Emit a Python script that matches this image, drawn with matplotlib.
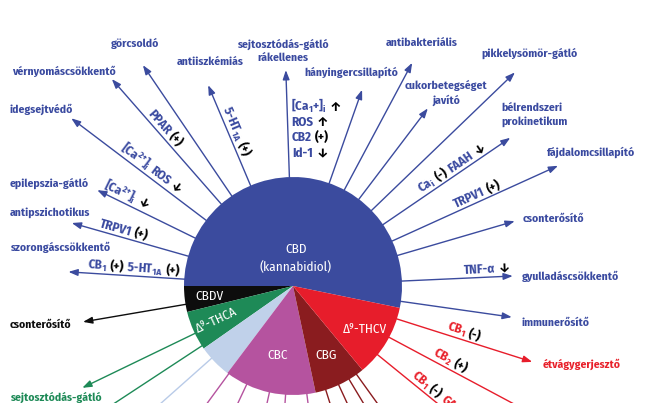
import numpy as np
import matplotlib.pyplot as plt
from matplotlib import font_manager

# pick a condensed face that has a real bold cut
prefs = ['Fira Sans Condensed', 'Barlow Semi Condensed', 'IBM Plex Sans Condensed', 'Roboto Condensed',
         'PT Sans Narrow', 'Encode Sans Condensed', 'Archivo Narrow']
bold_ok = {f.name for f in font_manager.fontManager.ttflist if f.weight in (600, 700, 'bold', 'semibold')}
have = {f.name for f in font_manager.fontManager.ttflist}
face = next((p for p in prefs if p in bold_ok), next((p for p in prefs if p in have), 'DejaVu Sans'))
plt.rcParams['font.family'] = [face, 'DejaVu Sans']
plt.rcParams['mathtext.default'] = 'regular'

W, H = 645, 403
cx, cy = 293, H - 286
R = 109

# pie: compounds
compounds = ["CBD\n(kannabidiol)", "CBDV", "Δ⁹-THCA", "", "CBC", "CBG", "Δ⁹-THCV"]
shares = [191.6, 13.8, 21.2, 18.0, 49.0, 27.6, 38.8]
colors = ["#3b4b9e", "#0d0d0d", "#1e8a57", "#c0d1ea", "#b5539f", "#8a1c1f", "#e71d2b"]
label_r = [28, 84, 84, 0, 71, 77, 84]
label_rot = [0, 0, 25, 0, 0, 0, 0]

# CBD effects (blue)
cbd_effects = ["szorongáscsökkentő", "antipszichotikus", "epilepszia-gátló", "idegsejtvédő",
               "vérnyomáscsökkentő", "görcsoldó", "antiiszkémiás", "sejtosztódás-gátló\nrákellenes",
               "hányingercsillapító", "antibakteriális", "cukorbetegséget\njavító",
               "pikkelysömör-gátló", "bélrendszeri\nprokinetikum", "fájdalomcsillapító",
               "csonterősítő", "gyulladáscsökkentő", "immunerősítő"]
cbd_angles = [176.4, 164.1, 153.9, 142.9, 131.2, 124.2, 112.9, 91.9, 70.6, 61.9, 52.8,
              43.9, 34.3, 24.4, 16.3, 2.6, -8.1]
cbd_lengths = [225, 230, 218, 278, 275, 267, 218, 216, 208, 253, 223, 308, 263, 291, 231, 220, 221]
cbd_label_x = [10, 10, 10, 10, 12, 135, 210, 283, 351, 422, 446, 530, 534, 591, 553, 571, 555]
cbd_label_y = [248, 213, 183, 109, 72, 44, 62, 51, 72, 43, 93, 53, 115, 152, 219, 277, 323]
cbd_receptors = ["CB$_1$ (+) 5-HT$_{1A}$ (+)", "TRPV1 (+)", "[Ca$^{2{+}}$]$_i$ ↓",
                 "[Ca$^{2{+}}$]$_i$ ROS ↓", "PPAR (+)", "", "5-HT$_{1A}$ (+)", "", "", "", "", "",
                 "Ca$_i$ (-) FAAH ↓", "TRPV1 (+)", "", "TNF-α ↓", ""]
cbd_receptor_r = [160, 178, 189, 184, 203, 0, 165, 0, 0, 0, 0, 0, 198, 206, 0, 194, 0]
stack_labels = ["[Ca$_1$+]$_i$ ↑", "ROS ↑", "CB2 (+)", "Id-1 ↓"]
stack_r = [179, 164, 149, 133]

# CBDV (black)
cbdv_effects = ["csonterősítő"]
cbdv_angles = [189.7]
cbdv_lengths = [213]
cbdv_label_x = [10]
cbdv_label_y = [325]

# THCA (green)
thca_effects = ["sejtosztódás-gátló", ""]
thca_angles = [205.8, 213.3]
thca_lengths = [234, 300]
thca_label_x = [10, 0]
thca_label_y = [397, 0]

# light blue, CBC, CBG rays (run off the bottom)
light_angles = [221.6]
cbc_angles = [233.8, 244.8, 257.5, 266.1, 277.3]
cbg_angles = [287.5, 294.8, 301.0, 305.7]

# THCV (red)
thcv_effects = ["étvágygerjesztő", "", ""]
thcv_angles = [-17.6, -28.1, -39.1]
thcv_lengths = [251, 300, 300]
thcv_label_x = [582, 0, 0]
thcv_label_y = [364, 0, 0]
thcv_receptors = ["CB$_1$ (-)", "CB$_2$ (+)", "CB$_1$ (-) GABA"]
thcv_receptor_r = [177, 174, 182]

blue_txt = "#3a4aa0"
red_txt = "#e8202a"
FS = 8.3
RS = 9.3

fig = plt.figure(figsize=(6.45, 4.03), dpi=100)
ax = fig.add_axes([0, 0, 1, 1])
wedges, _ = ax.pie(shares, colors=colors, startangle=-11.6, counterclock=True, radius=R,
                   center=(cx, cy), frame=False, wedgeprops=dict(linewidth=0, zorder=3))
ax.set_xlim(0, W)
ax.set_ylim(0, H)
ax.set_aspect('equal')
ax.axis('off')
renderer = fig.canvas.get_renderer()
signs = {"(+)", "(-)", "↓", "↑"}


def pt(ang, r):
    a = np.radians(ang)
    return cx + r * np.cos(a), cy + r * np.sin(a)


def ray(ang, length, color, head=True):
    x0, y0 = pt(ang, R - 5)
    x1, y1 = pt(ang, length)
    if head:
        ax.annotate('', xy=(x1, y1), xytext=(x0, y0), zorder=1,
                    arrowprops=dict(arrowstyle='-|>,head_length=0.55,head_width=0.2', color=color,
                                    lw=1.0, mutation_scale=10, shrinkA=0, shrinkB=0))
    else:
        ax.plot([x0, x1], [y0, y1], color=color, lw=1.0, zorder=1)


def rich(x, y, text, color, rot=0.0, align='center', size=RS):
    parts = text.split(' ')
    widths = []
    for p in parts:
        t = ax.text(0, 0, p, fontsize=size, fontweight='bold')
        widths.append(t.get_window_extent(renderer).width)
        t.remove()
    gap = 3
    total = sum(widths) + gap * (len(parts) - 1)
    a = np.radians(rot)
    ux, uy = np.cos(a), np.sin(a)
    s = -total / 2 if align == 'center' else 0
    for p, w in zip(parts, widths):
        ax.text(x + (s + w / 2) * ux, y + (s + w / 2) * uy, p,
                color='black' if p in signs else color, rotation=rot, rotation_mode='anchor',
                ha='center', va='baseline', fontsize=size, fontweight='bold', zorder=5)
        s += w + gap


def receptor(ang, r, text, color, off=4):
    rot = (ang + 90) % 180 - 90
    x, y = pt(ang, r)
    a = np.radians(rot)
    rich(x - np.sin(a) * off, y + np.cos(a) * off, text, color, rot)


def effect(x, y, text, color):
    if not text:
        return
    ha = 'left' if x < 30 else 'center'
    ax.text(x, H - y, text, color=color, fontsize=FS, fontweight='bold', ha=ha, va='center',
            multialignment='center' if 'rákellenes' in text or 'javító' in text else 'left',
            linespacing=1.4, zorder=5)


# wedge labels
for w, name, lr, rot in zip(wedges, compounds, label_r, label_rot):
    if not name:
        continue
    mid = (w.theta1 + w.theta2) / 2
    x, y = pt(mid, lr)
    ax.text(x, y, name, color='white', fontsize=9.5, ha='center', va='center', rotation=rot,
            linespacing=1.5, zorder=6)

# CBD
for i, ang in enumerate(cbd_angles):
    ray(ang, cbd_lengths[i], colors[0])
    effect(cbd_label_x[i], cbd_label_y[i], cbd_effects[i], blue_txt)
    if cbd_receptors[i]:
        receptor(ang, cbd_receptor_r[i], cbd_receptors[i], blue_txt)
for lab, r in zip(stack_labels, stack_r):
    x, y = pt(cbd_angles[7], r)
    rich(x + 4, y - 4, lab, blue_txt, 0, align='left')

# CBDV
for i, ang in enumerate(cbdv_angles):
    ray(ang, cbdv_lengths[i], colors[1])
    effect(cbdv_label_x[i], cbdv_label_y[i], cbdv_effects[i], colors[1])

# THCA
for i, ang in enumerate(thca_angles):
    ray(ang, thca_lengths[i], colors[2], head=bool(thca_effects[i]))
    effect(thca_label_x[i], thca_label_y[i], thca_effects[i], colors[2])

for ang in light_angles:
    ray(ang, 300, "#b9cbe8", head=False)
for ang in cbc_angles:
    ray(ang, 300, colors[4], head=False)
for ang in cbg_angles:
    ray(ang, 300, colors[5], head=False)

# THCV
for i, ang in enumerate(thcv_angles):
    ray(ang, thcv_lengths[i], colors[6], head=bool(thcv_effects[i]))
    effect(thcv_label_x[i], thcv_label_y[i], thcv_effects[i], red_txt)
    receptor(ang, thcv_receptor_r[i], thcv_receptors[i], red_txt)

fig.savefig("out.png", dpi=100)
